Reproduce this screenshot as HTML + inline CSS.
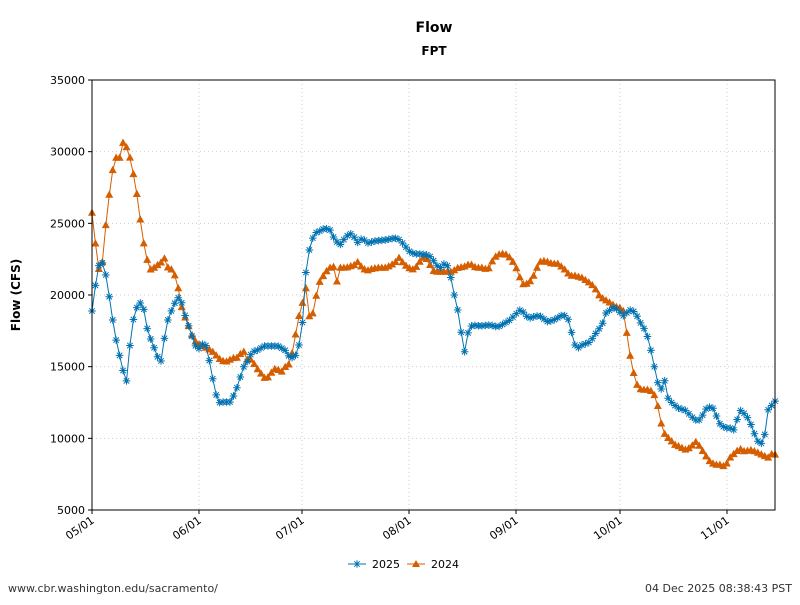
<!DOCTYPE html>
<html><head><meta charset="utf-8"><style>
body{margin:0;background:#fff;width:800px;height:600px;overflow:hidden}
svg{font-family:"DejaVu Sans","Liberation Sans",sans-serif}
</style></head><body>
<svg id="s" width="800" height="600" xmlns="http://www.w3.org/2000/svg">
<rect width="800" height="600" fill="#fff"/>
<text x="434" y="32" font-size="14" font-weight="bold" text-anchor="middle">Flow</text>
<text x="434" y="55" font-size="12" font-weight="bold" text-anchor="middle">FPT</text>
<text transform="translate(20,295) rotate(-90)" font-size="12" font-weight="bold" text-anchor="middle">Flow (CFS)</text>
<g id="grid"></g>
<g id="series"></g>
<rect x="92" y="80" width="683" height="430" fill="none" stroke="#000" stroke-width="1"/>
<g id="ticks" font-size="11"></g>
<g font-size="11">
<line x1="348" y1="564" x2="366" y2="564" stroke="#0072B2"/>
<g id="lgb"></g>
<text x="372" y="568">2025</text>
<line x1="407" y1="564" x2="425" y2="564" stroke="#D55E00"/>
<polygon points="416,560 420,567 412,567" fill="#D55E00"/>
<text x="431" y="568">2024</text>
</g>
<text x="8" y="592" font-size="11" fill="#333">www.cbr.washington.edu/sacramento/</text>
<text x="792" y="592" font-size="11" fill="#333" text-anchor="end">04 Dec 2025 08:38:43 PST</text>
</svg>
<script>
var NS="http://www.w3.org/2000/svg";
function el(p,t,a){var e=document.createElementNS(NS,t);for(var k in a)e.setAttribute(k,a[k]);p.appendChild(e);return e;}
var grid=document.getElementById('grid'),ticks=document.getElementById('ticks'),ser=document.getElementById('series');
for(var v=5000;v<=35000;v+=5000){var y=510-(v-5000)/5000*71.667;
 if(v>5000&&v<35000)el(grid,'line',{x1:92,x2:775,y1:y,y2:y,stroke:'#ccc','stroke-dasharray':'1,3'});
 el(ticks,'line',{x1:88,x2:92,y1:y,y2:y,stroke:'#000'});
 var t=el(ticks,'text',{x:85,y:y+4,'text-anchor':'end'});t.textContent=v;}
var xs=[[92,'05/01'],[199,'06/01'],[302,'07/01'],[409,'08/01'],[516,'09/01'],[620,'10/01'],[727,'11/01']];
xs.forEach(function(a){var x=a[0];
 if(x>92)el(grid,'line',{x1:x,x2:x,y1:80,y2:510,stroke:'#ccc','stroke-dasharray':'1,3'});
 el(ticks,'line',{x1:x,x2:x,y1:510,y2:514,stroke:'#000'});
 var t=el(ticks,'text',{transform:'translate('+(x+3)+',522) rotate(-35)','text-anchor':'end'});t.textContent=a[1];});
var B=[[92,311],[95,288],[99,265],[102,262],[105,270],[109,295],[113,322],[117,345],[122,365],[126,386],[130,345],[134,315],[139,302],[143,305],[147,328],[151,340],[155,350],[158,358],[162,362],[165,333],[169,315],[173,308],[176,300],[180,296],[184,312],[190,330],[195,345],[198,350],[202,344],[207,346],[210,365],[214,385],[218,403],[222,402],[230,402],[234,395],[238,385],[243,368],[247,362],[252,352],[258,350],[264,346],[270,346],[278,346],[285,350],[290,358],[295,357],[299,345],[302,330],[305,280],[308,255],[312,240],[315,233],[320,231],[325,228],[330,230],[335,240],[340,245],[345,238],[350,233],[355,238],[358,243],[362,238],[368,243],[375,241],[385,240],[395,238],[400,240],[405,246],[410,252],[415,254],[420,254],[428,255],[432,258],[436,265],[440,268],[446,262],[450,273],[453,290],[457,306],[460,323],[464,355],[468,333],[472,325],[480,326],[490,325],[498,327],[505,323],[510,320],[515,315],[521,309],[526,316],[530,318],[536,316],[540,316],[548,322],[556,319],[562,315],[567,316],[570,325],[574,344],[578,348],[582,345],[590,342],[596,333],[602,325],[606,313],[614,307],[618,310],[623,316],[630,310],[635,312],[640,322],[645,330],[648,338],[652,355],[656,375],[660,392],[665,380],[668,398],[672,403],[678,408],[685,410],[690,415],[695,420],[700,420],[706,409],[712,406],[716,415],[720,424],[725,428],[730,428],[734,430],[740,410],[746,415],[750,422],[756,438],[760,445],[764,440],[768,410],[772,405],[776,400]];
var O=[[92,213],[95,240],[98,265],[101,279],[104,242],[108,205],[112,173],[116,158],[120,158],[123,143],[126,146],[130,158],[133,172],[137,195],[141,225],[145,252],[148,263],[150,270],[154,268],[158,265],[162,262],[165,258],[168,268],[172,270],[175,276],[178,287],[181,305],[184,315],[187,322],[190,330],[193,338],[197,344],[202,346],[206,348],[210,350],[214,353],[218,358],[222,361],[226,362],[230,360],[234,358],[238,358],[243,350],[247,360],[250,359],[254,364],[258,370],[262,375],[266,380],[270,375],[274,369],[278,370],[282,372],[286,366],[290,364],[294,344],[298,320],[302,305],[306,288],[310,322],[314,310],[318,285],[322,278],[326,272],[330,268],[334,267],[337,282],[340,268],[346,268],[355,265],[358,262],[362,268],[367,271],[372,269],[378,268],[385,268],[390,266],[395,263],[399,258],[402,262],[408,268],[414,270],[418,265],[422,258],[426,258],[430,265],[434,272],[440,272],[446,272],[452,272],[458,268],[464,267],[470,264],[476,268],[482,268],[488,270],[494,258],[500,254],[505,254],[510,258],[515,265],[520,278],[524,286],[528,283],[532,280],[536,270],[540,262],[545,261],[552,264],[558,264],[565,270],[570,276],[575,276],[582,278],[588,282],[592,285],[596,290],[600,297],[605,300],[610,303],[616,307],[620,308],[624,312],[627,335],[630,355],[634,375],[637,385],[641,390],[648,390],[653,392],[657,402],[661,423],[665,435],[670,440],[675,445],[680,447],[685,450],[690,448],[696,442],[700,447],[705,455],[710,462],[715,465],[720,465],[725,467],[730,458],[736,452],[740,449],[745,452],[750,450],[756,452],[762,455],[768,458],[772,454],[776,455]];
function interp(P,x){for(var i=1;i<P.length;i++){if(x<=P[i][0]){var a=P[i-1],b=P[i];return a[1]+(b[1]-a[1])*(x-a[0])/(b[0]-a[0]);}}return P[P.length-1][1];}
function star(g,x,y,c){var r=3.8;var d='M'+(x-r)+' '+y+'H'+(x+r)+'M'+x+' '+(y-r)+'V'+(y+r)+'M'+(x-2.7)+' '+(y-2.7)+'L'+(x+2.7)+' '+(y+2.7)+'M'+(x-2.7)+' '+(y+2.7)+'L'+(x+2.7)+' '+(y-2.7);el(g,'path',{d:d,stroke:c,'stroke-width':1,fill:'none'});}
function tri(g,x,y,c){el(g,'polygon',{points:x+','+(y-4.5)+' '+(x+4)+','+(y+2.8)+' '+(x-4)+','+(y+2.8),fill:c});}
function draw(P,c,m){var pts=[];for(var i=0;i<=198;i++){var x=92+i*3.45;if(x>775.5)break;pts.push([x,interp(P,x)]);}
 el(ser,'polyline',{points:pts.map(function(p){return p[0].toFixed(1)+','+p[1].toFixed(1)}).join(' '),fill:'none',stroke:c,'stroke-width':1});
 pts.forEach(function(p){m(ser,p[0],p[1],c);});}
draw(O,'#D55E00',tri);draw(B,'#0072B2',star);
star(document.getElementById('lgb'),357,564,'#0072B2');
</script>
</body></html>
